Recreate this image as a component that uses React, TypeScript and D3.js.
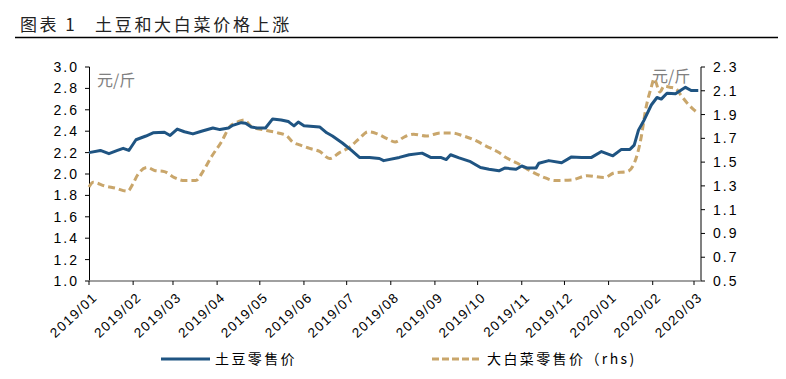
import React from "react";
import * as d3 from "d3";

const potatoDates = [
  "2019-01-01","2019-01-09","2019-01-15","2019-01-21","2019-01-25","2019-01-29","2019-02-03","2019-02-10","2019-02-15","2019-02-23","2019-02-27","2019-03-04","2019-03-09","2019-03-15","2019-03-21","2019-03-29","2019-04-03","2019-04-09","2019-04-12","2019-04-18","2019-04-21","2019-04-25","2019-04-29","2019-05-05","2019-05-10","2019-05-16","2019-05-21","2019-05-22","2019-05-25","2019-05-28","2019-06-01","2019-06-12","2019-06-17","2019-06-21","2019-06-28","2019-07-04","2019-07-10","2019-07-17","2019-07-24","2019-07-27","2019-08-07","2019-08-14","2019-08-23","2019-08-29","2019-09-05","2019-09-09","2019-09-12","2019-09-18","2019-09-26","2019-10-03","2019-10-09","2019-10-16","2019-10-20","2019-10-28","2019-11-01","2019-11-05","2019-11-11","2019-11-13","2019-11-20","2019-11-29","2019-12-06","2019-12-13","2019-12-20","2019-12-27","2020-01-04","2020-01-10","2020-01-16","2020-01-19","2020-01-22","2020-01-26","2020-01-31","2020-02-04","2020-02-07","2020-02-11","2020-02-17","2020-02-21","2020-02-24","2020-02-28","2020-03-04"
];
const potatoValues = [
  2.20,2.22,2.19,2.22,2.24,2.22,2.32,2.355,2.385,2.39,2.36,2.42,2.395,2.375,2.40,2.43,2.415,2.43,2.455,2.48,2.475,2.44,2.43,2.43,2.515,2.505,2.49,2.48,2.45,2.485,2.45,2.44,2.385,2.355,2.29,2.225,2.155,2.155,2.145,2.125,2.155,2.18,2.195,2.155,2.155,2.135,2.18,2.15,2.115,2.06,2.045,2.03,2.055,2.045,2.075,2.055,2.055,2.10,2.125,2.105,2.16,2.155,2.155,2.21,2.17,2.23,2.23,2.27,2.41,2.505,2.645,2.715,2.70,2.755,2.75,2.785,2.81,2.78,2.78
];

const cabbageDates = [
  "2019-01-01","2019-01-04","2019-01-12","2019-01-20","2019-01-28","2019-02-01","2019-02-04","2019-02-11","2019-02-16","2019-02-23","2019-03-02","2019-03-09","2019-03-17","2019-03-22","2019-03-28","2019-04-04","2019-04-10","2019-04-16","2019-04-20","2019-04-25","2019-05-04","2019-05-14","2019-05-20","2019-05-24","2019-05-29","2019-06-05","2019-06-12","2019-06-19","2019-06-26","2019-07-03","2019-07-10","2019-07-16","2019-07-22","2019-07-29","2019-08-04","2019-08-11","2019-08-17","2019-08-26","2019-09-05","2019-09-13","2019-09-21","2019-09-29","2019-10-07","2019-10-16","2019-10-20","2019-10-29","2019-11-08","2019-11-17","2019-11-24","2019-12-06","2019-12-17","2019-12-29","2020-01-05","2020-01-14","2020-01-19","2020-01-24","2020-01-27","2020-01-31","2020-02-02","2020-02-06","2020-02-09","2020-02-13","2020-02-17","2020-02-21","2020-02-25","2020-02-29","2020-03-04"
];
const cabbageValues = [
  1.29,1.33,1.30,1.28,1.255,1.32,1.39,1.455,1.43,1.42,1.37,1.345,1.345,1.42,1.545,1.67,1.80,1.84,1.855,1.80,1.77,1.745,1.72,1.67,1.645,1.615,1.59,1.53,1.58,1.625,1.70,1.755,1.74,1.70,1.67,1.715,1.735,1.72,1.745,1.745,1.72,1.685,1.635,1.58,1.545,1.49,1.42,1.37,1.345,1.35,1.385,1.37,1.41,1.42,1.49,1.715,1.94,2.13,2.20,2.09,2.14,2.13,2.12,2.06,2.00,1.95,1.91
];

const leftTicks = [1.0,1.2,1.4,1.6,1.8,2.0,2.2,2.4,2.6,2.8,3.0];
const rightTicks = [0.5,0.7,0.9,1.1,1.3,1.5,1.7,1.9,2.1,2.3];
const monthTicks = ["2019-01-01","2019-02-01","2019-03-01","2019-04-01","2019-05-01","2019-06-01","2019-07-01","2019-08-01","2019-09-01","2019-10-01","2019-11-01","2019-12-01","2020-01-01","2020-02-01","2020-03-01"];

const title = "图表 1";
const subtitle = "土豆和大白菜价格上涨";
const unit = "元/斤";
const legend1 = "土豆零售价";
const legend2 = "大白菜零售价（rhs)";

const BLUE = "#1f5482";
const TAN = "#c9a66b";
const NUM_FONT = "'Liberation Sans', Arial, sans-serif";
const CJK = "'Noto Sans CJK SC', sans-serif";

const parse = d3.utcParse("%Y-%m-%d");

export default function App() {
  const x = d3.scaleUtc()
    .domain([parse("2019-01-01")!, parse("2020-03-01")!])
    .range([89, 694]);
  const yL = d3.scaleLinear().domain([1, 3]).range([281, 67]);
  const yR = d3.scaleLinear().domain([0.5, 2.3]).range([281, 67]);

  const potato = potatoDates.map((d, i) => ({ d: parse(d)!, v: potatoValues[i] }));
  const cabbage = cabbageDates.map((d, i) => ({ d: parse(d)!, v: cabbageValues[i] }));

  const potatoLine = d3.line<{ d: Date; v: number }>()
    .x(p => x(p.d)).y(p => yL(p.v)).curve(d3.curveLinear);
  const cabbageLine = d3.line<{ d: Date; v: number }>()
    .x(p => x(p.d)).y(p => yR(p.v)).curve(d3.curveMonotoneX);

  const fmt = d3.utcFormat("%Y/%m");
  const axisEnd = 701;

  return (
    <svg width={786} height={379} style={{ position: "absolute", left: 0, top: 0, background: "#fff" }}>
      <rect x={0} y={0} width={786} height={379} fill="#fff" />
      {/* title */}
      <text x={20} y={31} fontFamily={CJK} fontSize={17} letterSpacing={2.5} fill="#222">{title}</text>
      <text x={95} y={31} fontFamily={CJK} fontSize={17} letterSpacing={2.7} fill="#222">{subtitle}</text>
      <line x1={15} x2={778} y1={37.5} y2={37.5} stroke="#000" strokeWidth={1.5} />

      {/* left axis */}
      <line x1={89.5} x2={89.5} y1={67} y2={281} stroke="#000" strokeWidth={1} />
      {leftTicks.map(t => (
        <g key={"l" + t}>
          <line x1={85} x2={89.5} y1={yL(t)} y2={yL(t)} stroke="#000" />
          <text x={79} y={yL(t)} dy="0.36em" textAnchor="end" fontFamily={NUM_FONT} fontSize={14} letterSpacing={2} fill="#000">{t.toFixed(1)}</text>
        </g>
      ))}

      {/* right axis */}
      <line x1={701} x2={701} y1={67} y2={281} stroke="#808080" strokeWidth={2} />
      {rightTicks.map(t => (
        <g key={"r" + t}>
          <line x1={701} x2={705} y1={yR(t)} y2={yR(t)} stroke="#000" />
          <text x={713} y={yR(t)} dy="0.36em" textAnchor="start" fontFamily={NUM_FONT} fontSize={14} letterSpacing={2} fill="#000">{t.toFixed(1)}</text>
        </g>
      ))}

      {/* bottom axis */}
      <line x1={89} x2={axisEnd} y1={281} y2={281} stroke="#808080" strokeWidth={1.5} />
      {monthTicks.map(m => {
        const px = x(parse(m)!);
        return (
          <g key={m}>
            <line x1={px} x2={px} y1={281} y2={285} stroke="#000" />
            <text transform={`translate(${px + 6},${295}) rotate(-43)`} textAnchor="end" dy="0.35em"
              fontFamily={NUM_FONT} fontSize={13.5} letterSpacing={1.4} fill="#000">{fmt(parse(m)!)}</text>
          </g>
        );
      })}

      {/* units */}
      <text x={97} y={86} fontFamily={CJK} fontSize={16} fill="#808080">{unit}</text>
      <text x={652} y={82} fontFamily={CJK} fontSize={16} fill="#808080">{unit}</text>

      {/* lines */}
      <path d={cabbageLine(cabbage) || ""} fill="none" stroke={TAN} strokeWidth={3} strokeDasharray="7,4" />
      <path d={potatoLine(potato) || ""} fill="none" stroke={BLUE} strokeWidth={3} strokeLinejoin="round" />

      {/* legend */}
      <line x1={161} x2={210} y1={359} y2={359} stroke={BLUE} strokeWidth={3} />
      <text x={215} y={364} fontFamily={CJK} fontSize={14} letterSpacing={2.4} fill="#000">{legend1}</text>
      <line x1={432} x2={481} y1={359} y2={359} stroke={TAN} strokeWidth={3} strokeDasharray="7,3" />
      <text x={487} y={364} fontFamily={CJK} fontSize={14} letterSpacing={2.4} fill="#000">{legend2}</text>
    </svg>
  );
}
